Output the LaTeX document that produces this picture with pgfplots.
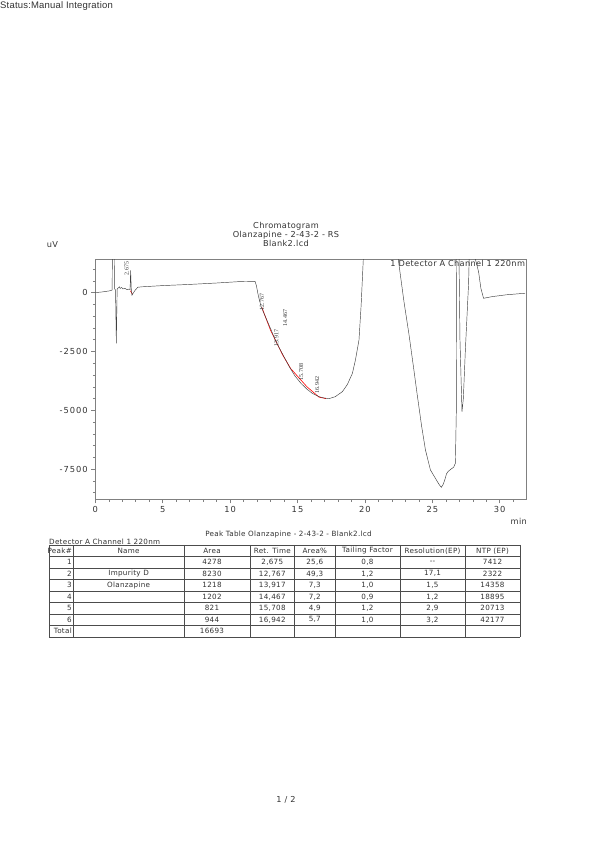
\documentclass[border=0pt]{standalone}
\usepackage{fontspec}
\usepackage{pgfplots}
\pgfplotsset{compat=1.18}
\setmainfont{DejaVu Sans}[LetterSpace=4]
\newfontfamily\tickfont{DejaVu Sans}[LetterSpace=12]
\newfontfamily\statusfont{Liberation Sans}[LetterSpace=2]
\newfontfamily\peakfont{Liberation Serif}
\definecolor{txt}{HTML}{333333}
\definecolor{axisgray}{HTML}{808080}
\definecolor{curve}{HTML}{404040}
\newcommand\tabfont{\fontsize{7.2}{8}\selectfont}
\newcommand\txtfont{\fontsize{8.2}{9.3}\selectfont}

% one row of the peak table: y, then the eight cells
\newcommand\trow[9]{%
  \node[anchor=east] at (72,#1) {#2};
  \node at (128.6,#1) {#3};
  \node at (212,#1) {#4};
  \node at (272.3,#1) {#5};
  \node at (314.8,#1) {#6};
  \node at (367.5,#1) {#7};
  \node at (432.5,#1) {#8};
  \node at (492.5,#1) {#9};}

\begin{document}
\begin{tikzpicture}[x=1pt,y=1pt]
\fill[white] (0,0) rectangle (600,849);

\node[anchor=north west, inner sep=0, text=txt, font=\statusfont\fontsize{9.5}{11}\selectfont] at (0,848) {Status:Manual Integration};

% titles
\node[align=center, text=txt, font=\txtfont, inner sep=0] at (286,614.5) {Chromatogram\\Olanzapine - 2-43-2 - RS\\Blank2.lcd};
\node[text=txt, font=\txtfont, inner sep=0] at (52.5,604) {uV};
\node[anchor=base east, text=txt, font=\txtfont, inner sep=0] at (527,324.5) {min};

\begin{axis}[
  at={(95.3pt,349.7pt)}, anchor=south west,
  width=431.4pt, height=240.3pt, scale only axis,
  xmin=0, xmax=32, ymin=-8780, ymax=1430,
  xtick={0,5,...,30}, xticklabels={0,5,10,15,20,25,30},
  ytick={-7500,-5000,-2500,0}, yticklabels={-7500,-5000,-2500,0},
  minor xtick={1,2,...,31}, minor ytick={-8500,-8000,...,1000},
  tick align=outside, tick pos=left,
  major tick length=4pt, minor tick length=2.5pt,
  axis line style={draw=axisgray, line width=0.6pt},
  tick style={draw=axisgray, line width=0.5pt},
  ticklabel style={font=\tickfont\fontsize{8.3}{9}\selectfont, text=txt},
  xticklabel style={yshift=0pt},
]
% integration baseline
\addplot[red, line width=0.6pt] coordinates {
  (12.35,-620) (13.0,-1600) (13.9,-2650) (14.5,-3230) (15.7,-4000) (16.6,-4440) (17.1,-4500)
};
\addplot[red, line width=0.6pt] coordinates {(2.6,80) (2.75,-60)};

% chromatogram trace
\addplot[curve, line width=0.45pt] coordinates {
  (0,0) (0.5,30) (1.0,70) (1.2,100) (1.25,115) (1.28,3000) (1.40,3000)
  (1.44,150) (1.50,120) (1.56,-2150) (1.62,150) (1.70,200) (1.78,250)
  (1.85,180) (1.95,220) (2.05,160) (2.2,180) (2.35,130) (2.5,150)
  (2.58,130) (2.62,950) (2.67,150) (2.72,-110) (2.8,-30) (2.95,100)
  (3.15,230) (3.5,250) (5,300) (7,350) (9,410) (10.7,470) (11.85,480)
  (11.95,300) (12.1,-150) (12.3,-595) (12.6,-1000) (13.0,-1530)
  (13.4,-2080) (13.9,-2620) (14.39,-3145) (14.8,-3530) (15.25,-3850)
  (15.7,-4100) (16.1,-4280) (16.6,-4420) (17.0,-4480) (17.35,-4500)
  (17.8,-4420) (18.33,-4205) (18.7,-3900) (19.07,-3430) (19.3,-2850)
  (19.56,-2010) (19.72,-520) (19.88,1430) (19.95,3000)
  (22.35,3000) (22.47,1430) (22.9,-400) (23.26,-1744) (23.6,-3150) (23.87,-4300)
  (24.2,-5650) (24.49,-6685) (24.86,-7535) (25.23,-7890) (25.5,-8150)
  (25.67,-8270) (25.8,-8150) (25.92,-7960) (26.05,-7700) (26.16,-7605)
  (26.4,-7490) (26.58,-7420) (26.71,-7250) (26.78,-5000) (26.82,3000)
  (26.95,3000) (27.05,-2000) (27.2,-5060) (27.3,-4500) (27.45,-2435)
  (27.69,400) (27.8,3000)
  (28.15,3000) (28.19,1430) (28.43,890) (28.6,190) (28.8,-240)
  (29.42,-170) (30.5,-90) (31.88,-25)
};

\node[rotate=90, inner sep=0, text=txt, font=\peakfont\fontsize{6}{6}\selectfont] at (axis cs:2.32,1028) {2.675};
\node[rotate=90, inner sep=0, text=txt, font=\peakfont\fontsize{6}{6}\selectfont] at (axis cs:12.36,-395) {12.767};
\node[rotate=90, inner sep=0, text=txt, font=\peakfont\fontsize{6}{6}\selectfont] at (axis cs:14.09,-1075) {14.467};
\node[rotate=90, inner sep=0, text=txt, font=\peakfont\fontsize{6}{6}\selectfont] at (axis cs:13.43,-1925) {13.917};
\node[rotate=90, inner sep=0, text=txt, font=\peakfont\fontsize{6}{6}\selectfont] at (axis cs:15.28,-3370) {15.708};
\node[rotate=90, inner sep=0, text=txt, font=\peakfont\fontsize{6}{6}\selectfont] at (axis cs:16.46,-3920) {16.942};

\node[anchor=north east, inner sep=1.5pt, text=txt, font=\txtfont] at (rel axis cs:1,1) {1 Detector A Channel 1 220nm};
\end{axis}

% peak table
\node[text=txt, font=\tabfont, inner sep=0] at (288.5,314.5) {Peak Table Olanzapine - 2-43-2 - Blank2.lcd};
\node[anchor=west, text=txt, font=\tabfont, inner sep=0] at (49,307.5) {Detector A Channel 1 220nm};
\foreach \k in {0,...,8} \draw[black!70, line width=0.5pt] (49,{304-11.5*\k}) -- (520,{304-11.5*\k});
\foreach \c in {49,73.3,184,250,294.5,335,400,465,520} \draw[black!70, line width=0.5pt] (\c,304) -- (\c,212);
\begin{scope}[every node/.style={font=\tabfont, inner sep=0, text=txt}]
\trow{298.25}{Peak\#}{Name}{Area}{Ret. Time}{Area\%}{Tailing Factor}{Resolution(EP)}{NTP (EP)}
\trow{286.75}{1}{}{4278}{2,675}{25,6}{0,8}{{-}{-}}{7412}
\trow{275.25}{2}{Impurity D}{8230}{12,767}{49,3}{1,2}{17,1}{2322}
\trow{263.75}{3}{Olanzapine}{1218}{13,917}{7,3}{1,0}{1,5}{14358}
\trow{252.25}{4}{}{1202}{14,467}{7,2}{0,9}{1,2}{18895}
\trow{240.75}{5}{}{821}{15,708}{4,9}{1,2}{2,9}{20713}
\trow{229.25}{6}{}{944}{16,942}{5,7}{1,0}{3,2}{42177}
\trow{217.75}{Total}{}{16693}{}{}{}{}{}
\end{scope}

\node[text=txt, font=\txtfont, inner sep=0] at (286,49) {1 / 2};
\end{tikzpicture}
\end{document}
